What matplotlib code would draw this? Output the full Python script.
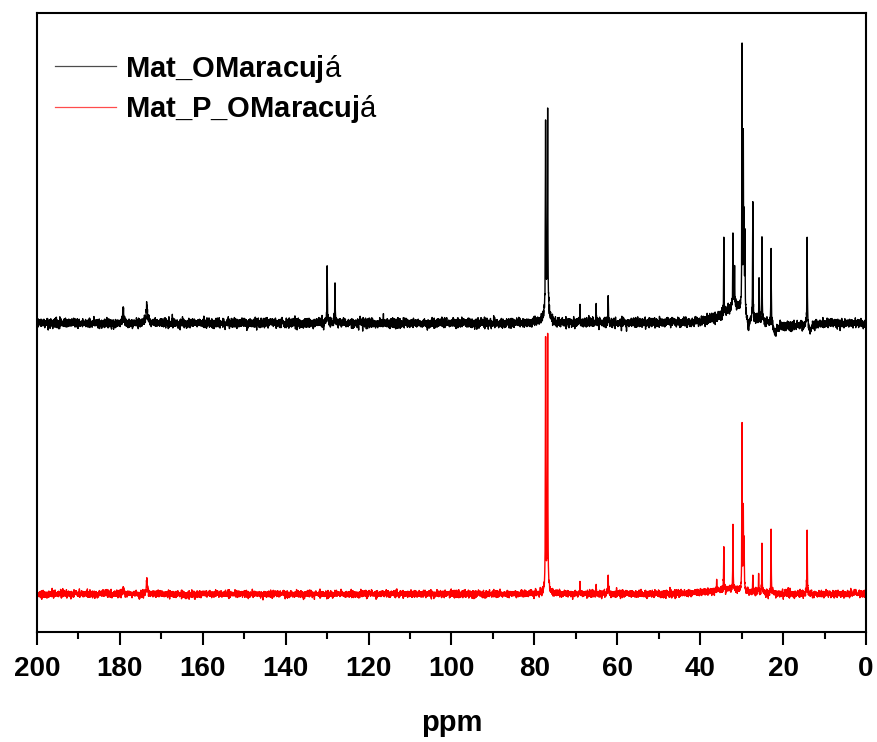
import numpy as np
import matplotlib
matplotlib.use("Agg")
import matplotlib.pyplot as plt

plt.rcParams["font.family"] = ["Liberation Sans", "DejaVu Sans"]
plt.rcParams["mathtext.fontset"] = "custom"
plt.rcParams["mathtext.rm"] = "Liberation Sans"
plt.rcParams["mathtext.bf"] = "Liberation Sans:bold"

# 13C NMR peak tables: chemical shift (ppm), intensity, half-width (ppm)
mat_shift = [179.2, 173.5, 130.0, 128.1, 77.3, 76.8, 77.0, 69.0, 65.1, 62.2,
             34.3, 32.1, 31.7, 29.9, 29.6, 29.4, 29.2, 27.3, 25.8, 25.1,
             22.9, 14.2, 31.5, 28.4, 21.9, 18.5, 13.5]
mat_height = [14, 17, 56, 45, 180, 185, 30, 21, 19, 26,
              75, 69, 40, 258, 170, 85, 79, 119, 42, 83,
              76, 86, 18, -12, -10, -4, -6]
mat_width = [0.15, 0.2, 0.06, 0.06, 0.05, 0.05, 0.45, 0.05, 0.05, 0.06,
             0.05, 0.05, 0.05, 0.05, 0.05, 0.05, 0.05, 0.05, 0.05, 0.05,
             0.05, 0.06, 3.0, 0.4, 0.5, 3.5, 0.4]

matp_shift = [179.2, 173.5, 77.3, 76.8, 77.0, 69.0, 65.1, 62.2,
              36.0, 34.3, 32.1, 29.9, 29.6, 29.4, 27.3, 25.9, 25.1,
              22.9, 14.2, 33.0]
matp_height = [4, 13, 245, 246, 15, 12, 7, 18,
               12, 42, 63, 165, 80, 50, 18, 19, 49,
               63, 63, 5]
matp_width = [0.15, 0.15, 0.05, 0.05, 0.45, 0.05, 0.05, 0.06,
              0.05, 0.05, 0.05, 0.05, 0.05, 0.05, 0.05, 0.05, 0.05,
              0.05, 0.06, 4.0]

labels = [r"$\mathbf{Mat\_OMaracuj}$á", r"$\mathbf{Mat\_P\_OMaracuj}$á"]
colors = ["#000000", "#ff0000"]
offsets = [309, 38]
noise_level = [2.3, 1.7]

ppm = np.linspace(0, 200, 8001)


def spectrum(shifts, heights, widths):
    y = np.zeros_like(ppm)
    for c, h, w in zip(shifts, heights, widths):
        y += h * w**2 / ((ppm - c) ** 2 + w**2)
    return y


rng = np.random.default_rng(7)
traces = [spectrum(mat_shift, mat_height, mat_width),
          spectrum(matp_shift, matp_height, matp_width)]

fig = plt.figure(figsize=(8.77, 7.42), dpi=100)
ax = fig.add_axes([37 / 877, 1 - 632 / 742, 829 / 877, 619 / 742])

for y, lab, col, off, nl in zip(traces, labels, colors, offsets, noise_level):
    y_obs = y + off + rng.normal(0, nl, ppm.size)
    ax.plot(ppm, y_obs, color=col, lw=1.0, label=lab)

ax.set_xlim(200, 0)
ax.set_ylim(0, 619)
ax.set_yticks([])
ax.set_xticks(np.arange(0, 201, 20))
ax.set_xticks(np.arange(0, 201, 10), minor=True)
ax.tick_params(axis="x", which="major", length=9, width=1.5, pad=8.5,
               labelsize=20)
ax.tick_params(axis="x", which="minor", length=5, width=1.5)
for lbl in ax.get_xticklabels():
    lbl.set_fontweight("bold")
for sp in ax.spines.values():
    sp.set_linewidth(1.5)

ax.set_xlabel("ppm", fontsize=21, fontweight="bold", labelpad=19)

leg = ax.legend(loc="upper left", bbox_to_anchor=(0.022, 0.936),
                frameon=False, fontsize=21, handlelength=2.1,
                handletextpad=0.3, labelspacing=0.3, borderpad=0,
                borderaxespad=0)
for h in leg.get_lines():
    h.set_linewidth(0.9)
    h.set_alpha(0.7)

fig.savefig("out.png", dpi=100)
